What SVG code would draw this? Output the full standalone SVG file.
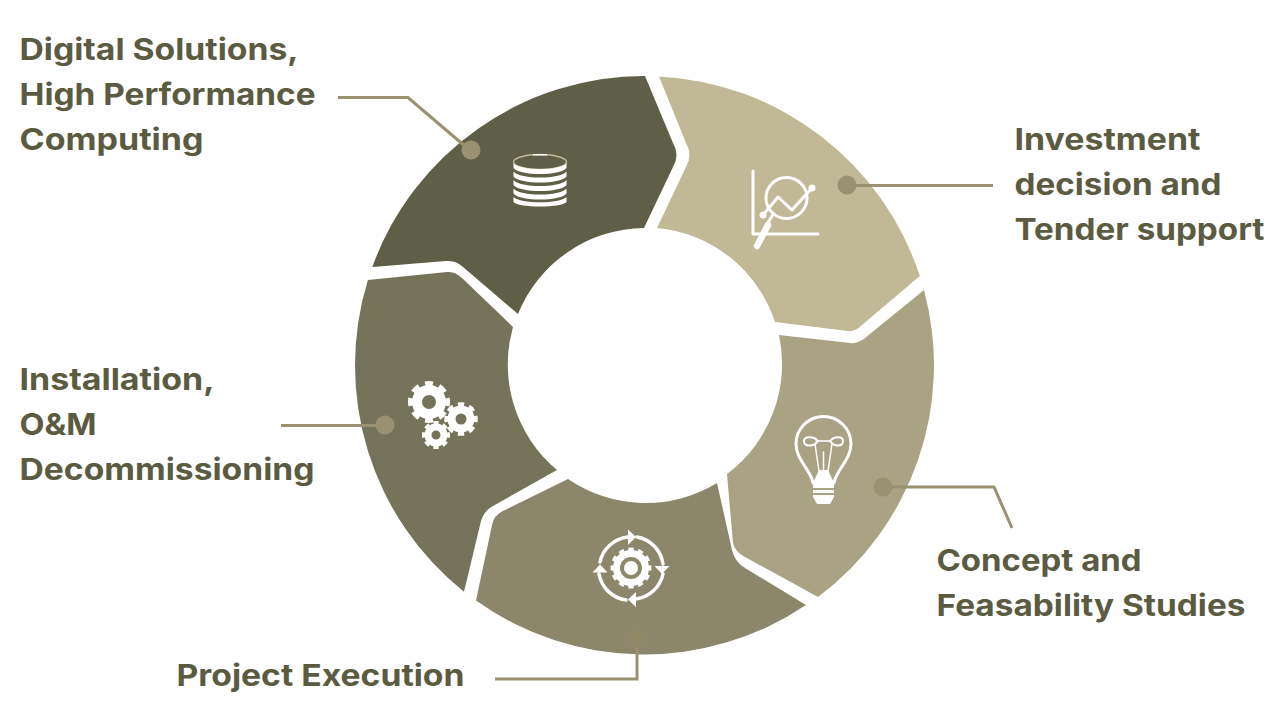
<svg xmlns="http://www.w3.org/2000/svg" width="1288" height="724" viewBox="0 0 1288 724">
<style>
.lbl{font-family:"Inter","Open Sans","Liberation Sans",sans-serif;font-weight:700;font-size:30px;fill:#5b5b42}
.ic{fill:none;stroke:#fff;stroke-width:3;stroke-linecap:round;stroke-linejoin:round}
.w{fill:#fff}
.cn{fill:none;stroke:#9a9170;stroke-width:3}
.dot{fill:#9a9170}
</style>
<rect width="1288" height="724" fill="#fff"/>
<g id="node-digital">
<path fill="#5f5e47" d="M372.300 267A289.500 289.500 0 0 1 645 76L673 143Q680 155 673 167L644 228A137.500 137.500 0 0 0 518 314L463 267Q456 260 446 261Z"/>
<g>
<ellipse cx="540" cy="162" rx="26.500" ry="7.500" fill="none" stroke="#c1b896" stroke-width="1.500"/>
<path class="w" d="M533 154H547V155.500H533Z"/>
<path class="w" d="M513.500 163C520 171 560 171 566.500 163V168C560 176 520 176 513.500 168ZM513.500 171.500C520 179.500 560 179.500 566.500 171.500V176.500C560 184.500 520 184.500 513.500 176.500ZM513.500 180C520 188 560 188 566.500 180V185C560 193 520 193 513.500 185ZM513.500 188.500C520 196.500 560 196.500 566.500 188.500V193.500C560 201.500 520 201.500 513.500 193.500ZM513.500 197C520 204 560 204 566.500 197V202C562 208 518 208 513.500 202Z"/>
</g>
<text class="lbl" x="19.500" y="60" textLength="279" lengthAdjust="spacingAndGlyphs">Digital Solutions,</text>
<text class="lbl" x="19.500" y="105" textLength="296" lengthAdjust="spacingAndGlyphs">High Performance</text>
<text class="lbl" x="19.500" y="150" textLength="184" lengthAdjust="spacingAndGlyphs">Computing</text>
</g>
<g id="node-investment">
<path fill="#c1b896" d="M659 76.500A289.500 289.500 0 0 1 919.800 276L862 325Q855 332 848 331L775 322A137.500 137.500 0 0 0 657 228L686 167Q693 155 686 143Z"/>
<g>
<path class="ic" d="M753 171V234H818M763 215L778 197L792 210L812 188"/>
<circle class="ic" cx="786.500" cy="198" r="20.500"/>
<circle class="w" cx="763" cy="215" r="3.500"/><circle class="w" cx="812" cy="188" r="3.500"/>
<path class="ic" d="M772 216L766 226"/>
<path class="ic" style="stroke-width:6.500" d="M768 225L757 246"/>
</g>
<text class="lbl" x="1014.500" y="150" textLength="186" lengthAdjust="spacingAndGlyphs">Investment</text>
<text class="lbl" x="1014.500" y="195" textLength="207" lengthAdjust="spacingAndGlyphs">decision and</text>
<text class="lbl" x="1014.500" y="240" textLength="250" lengthAdjust="spacingAndGlyphs">Tender support</text>
</g>
<g id="node-concept">
<path fill="#a9a383" d="M924 290A289.500 289.500 0 0 1 818 597L745 557Q735 552 733 543L727 474A137.500 137.500 0 0 0 779 335L850 343Q858 344 865 338Z"/>
<g>
<path class="ic" d="M813 483C811 470 796 460 796 444A27.500 27.500 0 1 1 851 444C851 460 836 470 834 483"/>
<path class="ic" style="stroke-width:1.500" d="M816 441H830M815 444L820 478M832 444L827 478M823.500 452V470"/>
<path class="ic" style="stroke-width:2" d="M818 441C814 436 804 436 804 441C804 447 814 447 818 441ZM830 441C834 436 843 436 843 441C843 447 834 447 830 441Z"/>
<path class="w" d="M819 470H828L834 483V488H813V483ZM813 490H834V493H813ZM813 495H834V497L830 504H817L813 497Z"/>
</g>
<text class="lbl" x="936.500" y="571" textLength="205" lengthAdjust="spacingAndGlyphs">Concept and</text>
<text class="lbl" x="936.500" y="616" textLength="309" lengthAdjust="spacingAndGlyphs">Feasability Studies</text>
</g>
<g id="node-execution">
<path fill="#8c876b" d="M806 605A289.500 289.500 0 0 1 476 600.500L492 525Q494 515 503 511L568 479A137.500 137.500 0 0 0 717 483L732 550Q735 562 745 568Z"/>
<g>
<path class="ic" style="stroke-width:3.500" d="M600 562A32 32 0 0 1 628 537M637 537A32 32 0 0 1 663 564M663 574A32 32 0 0 1 636 599M626 600A32 32 0 0 1 599 574"/>
<path class="w" d="M628 529.500L636 537L628 545ZM654.500 566H669.500L662 574ZM636 592L628 599.500L636 607ZM592.500 572.500H607.500L600 564.500Z"/>
<circle cx="631" cy="568" r="7" class="w"/>
<circle cx="631" cy="568" r="14.500" fill="none" stroke="#fff" stroke-width="7"/>
<circle cx="631" cy="568" r="18.500" fill="none" stroke="#fff" stroke-width="4" pathLength="120" stroke-dasharray="5.500 4.500" stroke-dashoffset="2.750"/>
</g>
<text class="lbl" x="176.500" y="686" textLength="288" lengthAdjust="spacingAndGlyphs">Project Execution</text>
</g>
<g id="node-installation">
<path fill="#75745b" d="M464 591.800A289.500 289.500 0 0 1 367.900 280L447 272Q455 271 462 278L513 327A137.500 137.500 0 0 0 557 470L493 506Q484 511 481 521Z"/>
<g fill="none" stroke="#fff">
<circle cx="429" cy="402" r="12" stroke-width="10"/>
<circle cx="429" cy="402" r="18.500" stroke-width="5" pathLength="80" stroke-dasharray="5.500 4.500" stroke-dashoffset="2.750"/>
<circle cx="461" cy="419" r="9.500" stroke-width="8"/>
<circle cx="461" cy="419" r="14.500" stroke-width="4.500" pathLength="80" stroke-dasharray="5.500 4.500" stroke-dashoffset="2.750"/>
<circle cx="436" cy="435" r="8" stroke-width="7"/>
<circle cx="436" cy="435" r="12" stroke-width="4" pathLength="80" stroke-dasharray="5.500 4.500" stroke-dashoffset="2.750"/>
</g>
<text class="lbl" x="19.500" y="390" textLength="195" lengthAdjust="spacingAndGlyphs">Installation,</text>
<text class="lbl" x="19.500" y="435" textLength="77" lengthAdjust="spacingAndGlyphs">O&amp;M</text>
<text class="lbl" x="19.500" y="480" textLength="295" lengthAdjust="spacingAndGlyphs">Decommissioning</text>
</g>
<g id="connectors">
<path class="cn" d="M338 97.500H408L466 147"/>
<circle class="dot" cx="471" cy="150" r="9.500"/>
<path class="cn" d="M847 185.500H993"/>
<circle class="dot" cx="847" cy="185" r="9.500"/>
<path class="cn" d="M883 487H994L1012 528"/>
<circle class="dot" cx="883" cy="487" r="9.500"/>
<path class="cn" d="M637 640V679H495"/>
<circle cx="636" cy="638" r="9.500" fill="#8f8766"/>
<path class="cn" d="M281 425.500H385"/>
<circle class="dot" cx="385" cy="425" r="9.500"/>
</g>
</svg>
